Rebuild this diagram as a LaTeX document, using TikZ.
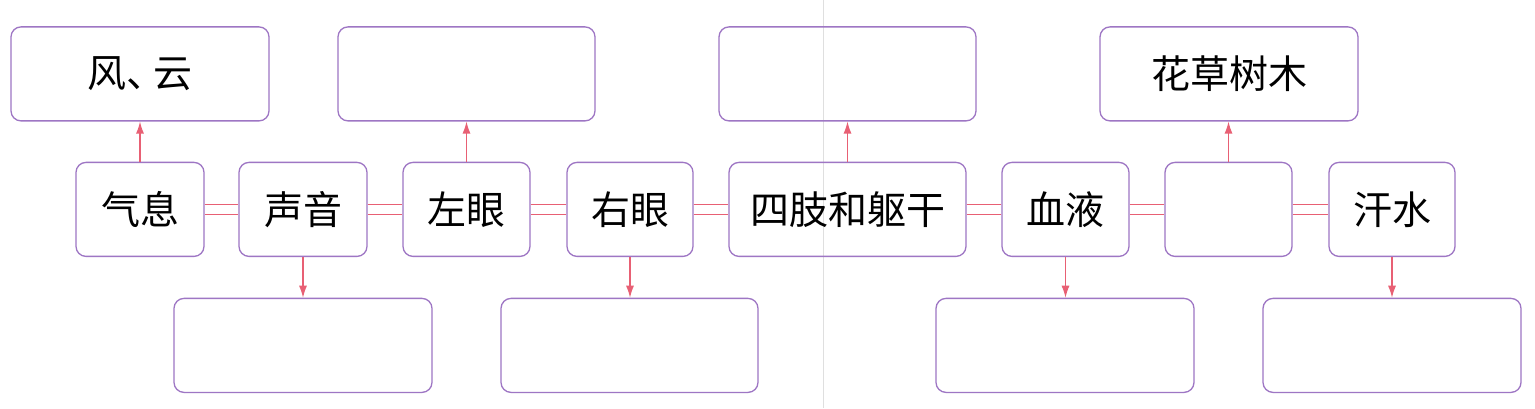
\documentclass[tikz,border=0pt]{standalone}
\usepackage{fontspec}
\setmainfont{Noto Sans CJK SC}
\usetikzlibrary{arrows.meta}

\definecolor{boxline}{RGB}{158,118,196}
\definecolor{linkred}{RGB}{232,96,116}

\tikzset{
  box/.style={draw=boxline, line width=1.3pt, rounded corners=10pt, minimum height=94pt, inner sep=0pt, font=\fontsize{39}{39}\selectfont},
  pair/.style={draw=linkred, double, double distance=9pt, line width=1pt},
  arr/.style={draw=linkred, line width=1.2pt, -{Latex[length=12pt,width=8pt]}}
}

\begin{document}
\begin{tikzpicture}[x=1pt,y=-1pt]

\fill[white] (0,0) rectangle (1535,408);
\draw[gray!25, line width=0.8pt] (823,0) -- (823,408);

\node[box, minimum width=128pt] (m1) at (140,209) {气息};
\node[box, minimum width=128pt] (m2) at (303,209) {声音};
\node[box, minimum width=127pt] (m3) at (466.5,209) {左眼};
\node[box, minimum width=126pt] (m4) at (630,209) {右眼};
\node[box, minimum width=237pt] (m5) at (847.5,209) {四肢和躯干};
\node[box, minimum width=127pt] (m6) at (1065.5,209) {血液};
\node[box, minimum width=127pt] (m7) at (1228.5,209) {};
\node[box, minimum width=126pt] (m8) at (1392,209) {汗水};

\node[box, minimum width=258pt] (t1) at (140,73.5) {风、\kern-0.33em云};
\node[box, minimum width=257pt] (t2) at (466.5,73.5) {};
\node[box, minimum width=257pt] (t3) at (847.5,73.5) {};
\node[box, minimum width=258pt] (t4) at (1229,73.5) {花草树木};

\node[box, minimum width=258pt] (b1) at (303,345) {};
\node[box, minimum width=257pt] (b2) at (629.5,345) {};
\node[box, minimum width=258pt] (b3) at (1065,345) {};
\node[box, minimum width=258pt] (b4) at (1392,345) {};

\draw[pair] (m1) -- (m2);
\draw[pair] (m2) -- (m3);
\draw[pair] (m3) -- (m4);
\draw[pair] (m4) -- (m5);
\draw[pair] (m5) -- (m6);
\draw[pair] (m6) -- (m7);
\draw[pair] (m7) -- (m8);

\draw[arr] (m1.north) -- (m1.north |- t1.south);
\draw[arr] (m3.north) -- (m3.north |- t2.south);
\draw[arr] (m5.north) -- (m5.north |- t3.south);
\draw[arr] (m7.north) -- (m7.north |- t4.south);
\draw[arr] (m2.south) -- (m2.south |- b1.north);
\draw[arr] (m4.south) -- (m4.south |- b2.north);
\draw[arr] (m6.south) -- (m6.south |- b3.north);
\draw[arr] (m8.south) -- (m8.south |- b4.north);

\end{tikzpicture}
\end{document}
